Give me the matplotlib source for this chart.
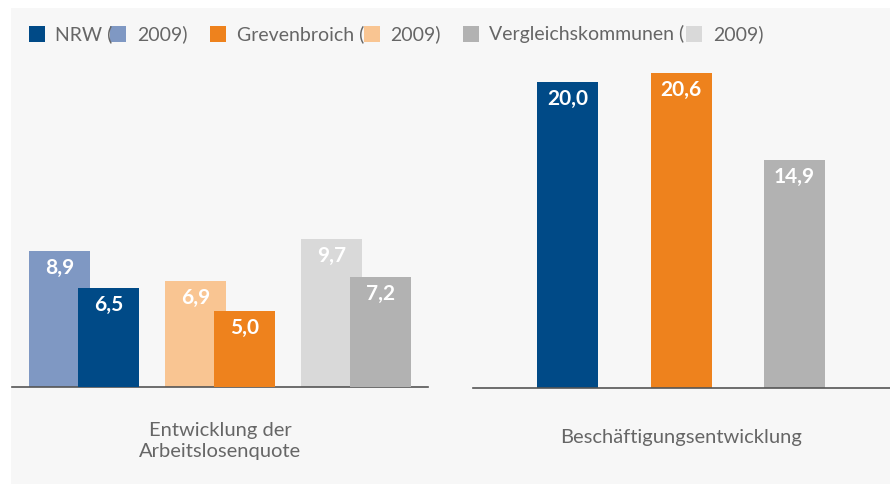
import matplotlib
matplotlib.use('Agg')
import matplotlib.pyplot as plt
from matplotlib.patches import Rectangle
import numpy as np

# Daten
groups = ['NRW', 'Grevenbroich', 'Vergleichskommunen']
alq_2009 = [8.9, 6.9, 9.7]
alq_now = [6.5, 5.0, 7.2]
beschaeftigung = [20.0, 20.6, 14.9]
panel_titles = ['Entwicklung der\nArbeitslosenquote', 'Beschäftigungsentwicklung']
legend_year = '2009'

dark = ['#004a87', '#ee821d', '#b2b2b2']
light = ['#7f98c3', '#f9c592', '#d9d9d9']
txt = '#666666'
W, H = 890, 484
plt.rcParams['font.family'] = ['Lato', 'DejaVu Sans']

fig = plt.figure(figsize=(W / 100, H / 100), dpi=100)
fig.patch.set_facecolor('white')
fig.patches.append(Rectangle((11 / W, 0), 1, 1 - 8 / H, transform=fig.transFigure,
                             facecolor='#f7f7f7', edgecolor='none', zorder=-10))

px_per_unit = 15.3
ax_h = 330


def pax(x0, x1, base):
    return fig.add_axes([x0 / W, (H - base) / H, (x1 - x0) / W, ax_h / H])


def style(ax):
    ax.set_facecolor('none')
    ax.set_ylim(0, ax_h / px_per_unit)
    for s in ['top', 'right', 'left']:
        ax.spines[s].set_visible(False)
    ax.spines['bottom'].set_color('#555555')
    ax.spines['bottom'].set_linewidth(1.2)
    ax.set_xticks([]); ax.set_yticks([])


def fmt(v):
    return f'{v:.1f}'.replace('.', ',')


# links: Arbeitslosenquote
ax1 = pax(12, 428, 387)
style(ax1)
x = np.arange(len(groups))
w, off = 61 / 136, 49 / 136
ax1.set_xlim(-0.529, 2.529)
b1 = ax1.bar(x - off / 2, alq_2009, w, color=light, zorder=2)
b2 = ax1.bar(x + off / 2, alq_now, w, color=dark, zorder=3)
for bars, vals in [(b1, alq_2009), (b2, alq_now)]:
    for b, v in zip(bars, vals):
        ax1.annotate(fmt(v), (b.get_x() + b.get_width() / 2, v), xytext=(0, -17),
                     textcoords='offset pixels', ha='center', va='center',
                     color='white', fontsize=15, fontweight='bold', zorder=4)

# rechts: Beschäftigung
ax2 = pax(473, 890, 388)
style(ax2)
ax2.set_xlim(-0.833, 2.84)
b3 = ax2.bar(x, beschaeftigung, 61 / 113.5, color=dark, zorder=2)
for b, v in zip(b3, beschaeftigung):
    ax2.annotate(fmt(v), (b.get_x() + b.get_width() / 2, v), xytext=(0, -17),
                 textcoords='offset pixels', ha='center', va='center',
                 color='white', fontsize=15, fontweight='bold', zorder=4)


def ftext(px, py, s, **kw):
    fig.text(px / W, 1 - py / H, s, **kw)


ftext(220, 441, panel_titles[0], ha='center', va='center', color=txt, fontsize=14.5,
      linespacing=1.3)
ftext(681, 438, panel_titles[1], ha='center', va='center', color=txt, fontsize=14.5)

# Legende
legend_items = [(29, 55, 110, 137, 0), (210, 237, 364, 390, 1), (463, 489, 686, 713, 2)]
for sq, lab, sq2, yr, i in legend_items:
    fig.patches.append(Rectangle((sq / W, 1 - 42 / H), 16 / W, 16 / H, transform=fig.transFigure,
                                 facecolor=dark[i], edgecolor='none'))
    fig.patches.append(Rectangle((sq2 / W, 1 - 42 / H), 16 / W, 16 / H, transform=fig.transFigure,
                                 facecolor=light[i], edgecolor='none'))
    ftext(lab, 34, groups[i] + ' (', ha='left', va='center', color=txt, fontsize=14)
    ftext(yr, 34, legend_year + ')', ha='left', va='center', color=txt, fontsize=14)

fig.savefig('out.png', dpi=100, facecolor=fig.get_facecolor())
